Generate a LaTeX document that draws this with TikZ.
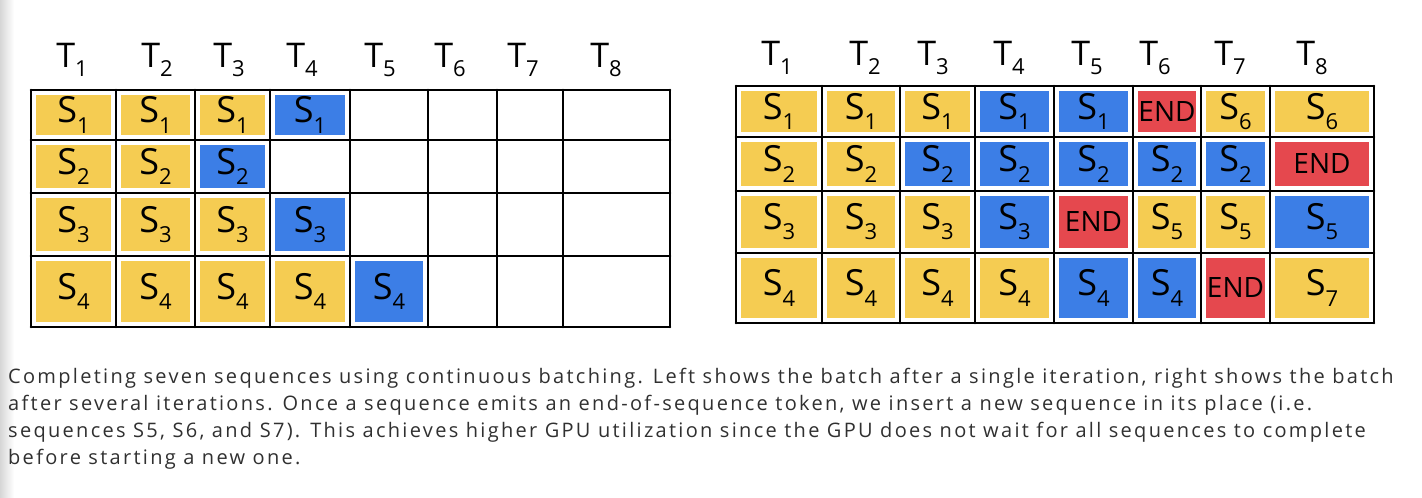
\documentclass[tikz,border=0pt]{standalone}
\usepackage{fontspec}
\setsansfont{Open Sans}
\newfontfamily\captionfont[LetterSpace=11.5]{Open Sans}
\usetikzlibrary{calc}
\definecolor{tokyellow}{RGB}{245,204,82}
\definecolor{tokblue}{RGB}{60,126,230}
\definecolor{tokred}{RGB}{229,72,78}
\definecolor{captiongray}{RGB}{48,48,48}

% letter with a hand-drawn style subscript
\newcommand{\subtok}[2]{#1\raisebox{-0.28em}{\fontsize{22}{22}\selectfont #2}}

% column and row edges of the two batches (pixels)
\def\lxs{{31,116,195,270,350,428,497,563,670}}
\def\lys{{90,140,193,256,327}}
\def\rxs{{736,822,900,975,1054,1133,1201,1270,1374}}
\def\rys{{86,137,191,253,323}}

\begin{document}
\begin{tikzpicture}[x=1pt, y=-1pt,
    gridline/.style={line width=2.6pt, line cap=round},
    steplabel/.style={font=\fontsize{34}{34}\sffamily\selectfont, inner sep=0pt},
    toklabel/.style={font=\fontsize{36}{36}\sffamily\selectfont, inner sep=0pt},
    endlabel/.style={font=\fontsize{28}{28}\sffamily, inner sep=0pt},
    captionline/.style={font=\fontsize{20}{20}\captionfont, text=captiongray, anchor=base west, inner sep=0pt}]
    \useasboundingbox (0,0) rectangle (1422,498);
    \shade[left color=black!16, right color=white] (0,0) rectangle (14,498);

    % step headers
    \foreach \x [count=\i] in {72,157,229,302,380,450,523,606}
        \node[steplabel] (lt\i) at (\x,60) {\subtok{T}{\i}};
    \foreach \x [count=\i] in {777,865,933,1009,1087,1155,1230,1312}
        \node[steplabel] (rt\i) at (\x,58) {\subtok{T}{\i}};

    % left batch: after one iteration
    \foreach \c/\r/\col/\txt in {1/1/tokyellow/1, 2/1/tokyellow/1, 3/1/tokyellow/1, 4/1/tokblue/1,
        1/2/tokyellow/2, 2/2/tokyellow/2, 3/2/tokblue/2,
        1/3/tokyellow/3, 2/3/tokyellow/3, 3/3/tokyellow/3, 4/3/tokblue/3,
        1/4/tokyellow/4, 2/4/tokyellow/4, 3/4/tokyellow/4, 4/4/tokyellow/4, 5/4/tokblue/4} {
        \pgfmathsetmacro\xa{\lxs[\c-1]}
        \pgfmathsetmacro\xb{\lxs[\c]}
        \pgfmathsetmacro\ya{\lys[\r-1]}
        \pgfmathsetmacro\yb{\lys[\r]}
        \fill[\col] (\xa+5,\ya+5) rectangle (\xb-5,\yb-5);
        \node[toklabel] (l-\r-\c) at ({(\xa+\xb)/2},{(\ya+\yb)/2}) {\subtok{S}{\txt}};
    }
    \foreach \x in {31,116,195,270,350,428,497,563,670}
        \draw[gridline] (\x,90) -- (\x,327);
    \foreach \y in {90,140,193,256,327}
        \draw[gridline] (31,\y) -- (670,\y);

    % right batch: after several iterations (0 = END)
    \foreach \c/\r/\col/\txt in {1/1/tokyellow/1, 2/1/tokyellow/1, 3/1/tokyellow/1, 4/1/tokblue/1,
        5/1/tokblue/1, 6/1/tokred/0, 7/1/tokyellow/6, 8/1/tokyellow/6,
        1/2/tokyellow/2, 2/2/tokyellow/2, 3/2/tokblue/2, 4/2/tokblue/2,
        5/2/tokblue/2, 6/2/tokblue/2, 7/2/tokblue/2, 8/2/tokred/0,
        1/3/tokyellow/3, 2/3/tokyellow/3, 3/3/tokyellow/3, 4/3/tokblue/3,
        5/3/tokred/0, 6/3/tokyellow/5, 7/3/tokyellow/5, 8/3/tokblue/5,
        1/4/tokyellow/4, 2/4/tokyellow/4, 3/4/tokyellow/4, 4/4/tokyellow/4,
        5/4/tokblue/4, 6/4/tokblue/4, 7/4/tokred/0, 8/4/tokyellow/7} {
        \pgfmathsetmacro\xa{\rxs[\c-1]}
        \pgfmathsetmacro\xb{\rxs[\c]}
        \pgfmathsetmacro\ya{\rys[\r-1]}
        \pgfmathsetmacro\yb{\rys[\r]}
        \fill[\col] (\xa+5,\ya+5) rectangle (\xb-5,\yb-5);
        \ifnum\txt=0
            \node[endlabel] (r-\r-\c) at ({(\xa+\xb)/2},{(\ya+\yb)/2}) {END};
        \else
            \node[toklabel] (r-\r-\c) at ({(\xa+\xb)/2},{(\ya+\yb)/2}) {\subtok{S}{\txt}};
        \fi
    }
    \foreach \x in {736,822,900,975,1054,1133,1201,1270,1374}
        \draw[gridline] (\x,86) -- (\x,323);
    \foreach \y in {86,137,191,253,323}
        \draw[gridline] (736,\y) -- (1374,\y);

    % caption
    \node[captionline] (cap1) at (8,383) {Completing seven sequences using continuous batching. Left shows the batch after a single iteration, right shows the batch};
    \node[captionline] (cap2) at (8,410) {after several iterations. Once a sequence emits an end-of-sequence token, we insert a new sequence in its place (i.e.};
    \node[captionline] (cap3) at (8,437) {sequences S5, S6, and S7). This achieves higher GPU utilization since the GPU does not wait for all sequences to complete};
    \node[captionline] (cap4) at (8,464) {before starting a new one.};
\end{tikzpicture}
\end{document}
